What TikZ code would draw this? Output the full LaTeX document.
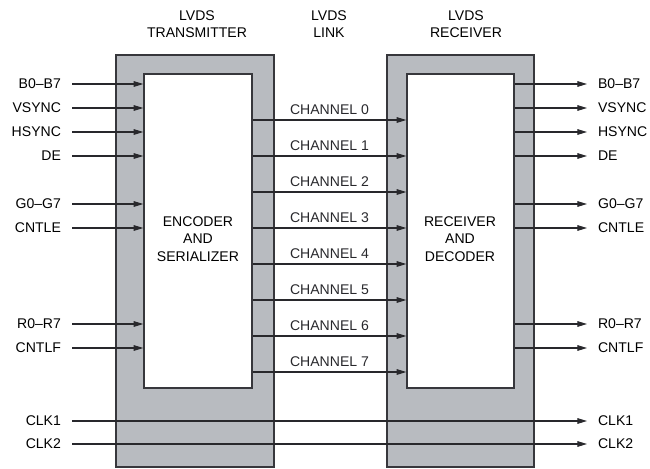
\documentclass[tikz,border=0pt]{standalone}
\usepackage{fontspec}
\setmainfont{Liberation Sans}
\usetikzlibrary{arrows.meta, positioning, fit}
\definecolor{boxgray}{RGB}{184, 187, 192}
\definecolor{linegray}{RGB}{40, 40, 44}
\definecolor{edgegray}{RGB}{55, 55, 60}

\begin{document}
\begin{tikzpicture}[
    x=0.02cm, y=0.02cm,
    >={Triangle[length=5.5pt, width=3.2pt]},
    line width=0.6pt,
    font=\fontsize{8}{10}\selectfont,
    outerbox/.style={draw=edgegray, fill=boxgray, line width=0.8pt, inner sep=0pt},
    innerbox/.style={draw=edgegray, fill=white, line width=0.8pt, inner sep=0pt},
    sigin/.style={anchor=east, inner xsep=6pt, inner ysep=0pt},
    sigout/.style={anchor=west, inner xsep=6pt, inner ysep=0pt},
    chlabel/.style={above, inner sep=2.5pt},
    wire/.style={->, linegray},
]
    \useasboundingbox (0,0) rectangle (650,468);

    % --- Headers ---
    \node[align=center] (hdtx) at (197,444) {LVDS\\TRANSMITTER};
    \node[align=center] (hdlink) at (329,444) {LVDS\\LINK};
    \node[align=center] (hdrx) at (466,444) {LVDS\\RECEIVER};

    % --- Boxes ---
    \node[outerbox, fit={(116,1) (274,413)}] (txout) {};
    \node[innerbox, fit={(144,80) (252,394)}] (txin) {};
    \node[outerbox, fit={(387,1) (534,413)}] (rxout) {};
    \node[innerbox, fit={(407,80) (514,394)}] (rxin) {};
    \node[align=center] (txtext) at (198,229) {ENCODER\\AND\\SERIALIZER};
    \node[align=center] (rxtext) at (460,229) {RECEIVER\\AND\\DECODER};

    % --- Parallel inputs and outputs ---
    \foreach \sig/\yy [count=\i] in {B0–B7/384, VSYNC/360, HSYNC/336, DE/312, G0–G7/264, CNTLE/240, R0–R7/144, CNTLF/120} {
        \node[sigin] (in\i) at (72,\yy) {\sig};
        \draw[wire] (in\i.east) -- (in\i.east -| txin.west);
        \node[sigout] (out\i) at (587,\yy) {\sig};
        \draw[wire] (out\i.west -| rxin.east) -- (out\i.west);
    }

    % --- LVDS channels ---
    \foreach \i in {0,...,7} {
        \coordinate (ch\i) at (329, 348-36*\i);
        \draw[wire] (ch\i -| txin.east) -- (ch\i -| rxin.west) node[midway, chlabel] {CHANNEL \i};
    }

    % --- Clocks ---
    \foreach \clk/\yy in {1/47, 2/24} {
        \node[sigin] (clkin\clk) at (72,\yy) {CLK\clk};
        \node[sigout] (clkout\clk) at (587,\yy) {CLK\clk};
        \draw[wire] (clkin\clk.east) -- (clkout\clk.west);
    }
\end{tikzpicture}
\end{document}
